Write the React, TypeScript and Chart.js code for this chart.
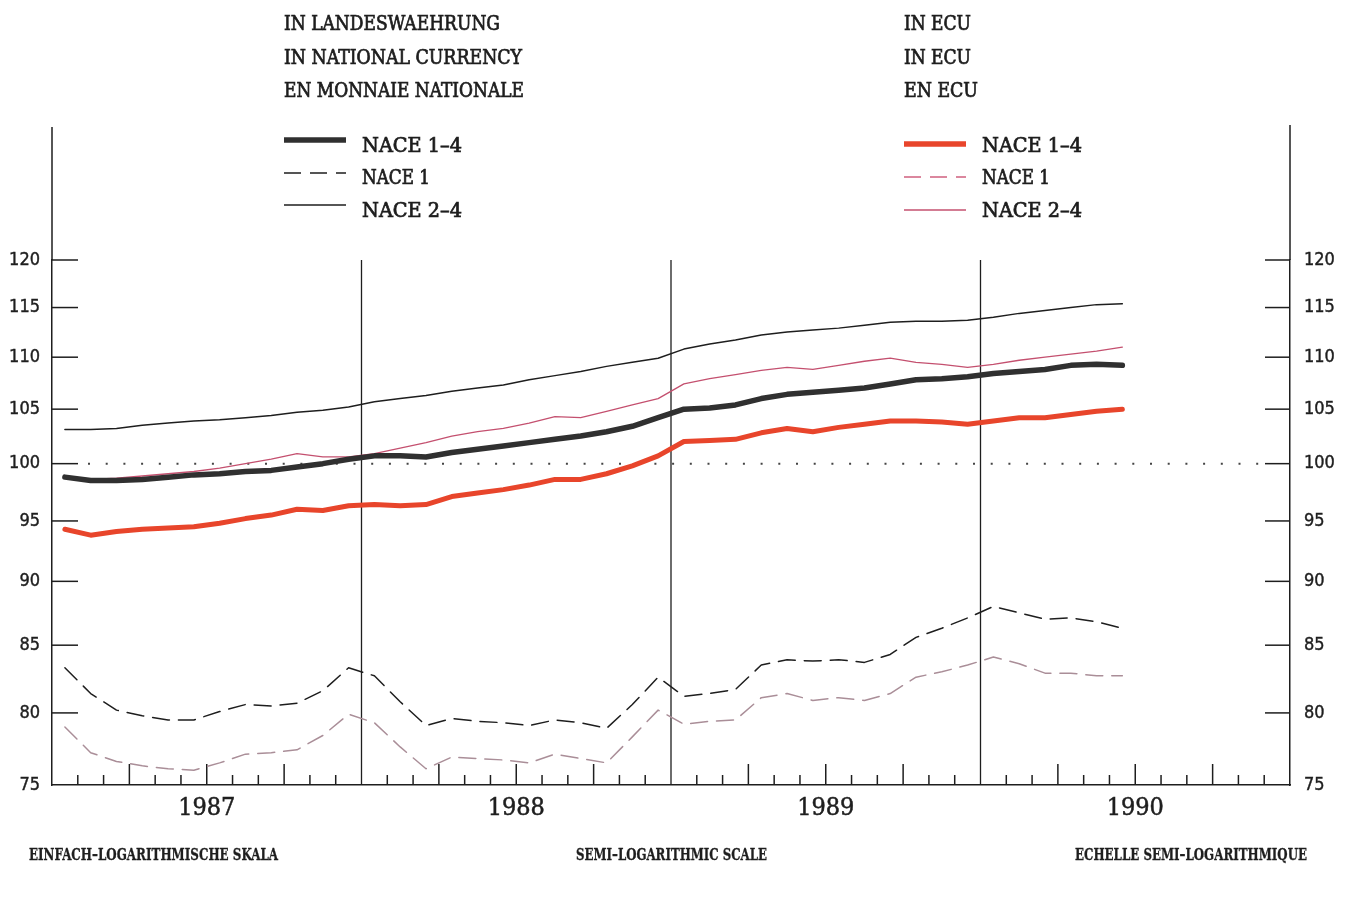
import React, { useEffect, useRef } from 'react';
import { Chart, registerables } from 'chart.js';

Chart.register(...registerables);

// ---- categories ----
const YEARS = ['1987', '1988', '1989', '1990'];
const MONTH_NAMES = ['Jan', 'Feb', 'Mar', 'Apr', 'May', 'Jun', 'Jul', 'Aug', 'Sep', 'Oct', 'Nov', 'Dec'];
const MONTH_LABELS = YEARS.flatMap((y) => MONTH_NAMES.map((m) => `${m} ${y}`));

// ---- tick labels ----
const YEAR_TICK_POSITIONS = [6, 18, 30, 42];
const YEAR_LABELS = ['1987', '1988', '1989', '1990'];
const Y_TICKS = [75, 80, 85, 90, 95, 100, 105, 110, 115, 120];

// ---- series (Jan 1987 – Jun 1990, monthly) ----
const NAT_NACE_1_4 = [98.8, 98.5, 98.5, 98.6, 98.8, 99.0, 99.1, 99.3, 99.4, 99.7, 100.0, 100.4, 100.7, 100.7, 100.6, 101.0, 101.3, 101.6, 101.9, 102.2, 102.5, 102.9, 103.4, 104.2, 105.0, 105.1, 105.4, 106.0, 106.4, 106.6, 106.8, 107.0, 107.4, 107.8, 107.9, 108.1, 108.4, 108.6, 108.8, 109.2, 109.3, 109.2];
const NAT_NACE_1 = [83.3, 81.4, 80.2, 79.8, 79.5, 79.5, 80.1, 80.6, 80.5, 80.7, 81.6, 83.3, 82.7, 80.8, 79.1, 79.6, 79.4, 79.3, 79.1, 79.5, 79.3, 78.9, 80.6, 82.6, 81.2, 81.4, 81.7, 83.5, 83.9, 83.8, 83.9, 83.7, 84.3, 85.6, 86.3, 87.1, 88.0, 87.5, 87.0, 87.1, 86.8, 86.3];
const NAT_NACE_2_4 = [103.1, 103.1, 103.2, 103.5, 103.7, 103.9, 104.0, 104.2, 104.4, 104.7, 104.9, 105.2, 105.7, 106.0, 106.3, 106.7, 107.0, 107.3, 107.8, 108.2, 108.6, 109.1, 109.5, 109.9, 110.8, 111.3, 111.7, 112.2, 112.5, 112.7, 112.9, 113.2, 113.5, 113.6, 113.6, 113.7, 114.0, 114.4, 114.7, 115.0, 115.3, 115.4];
const ECU_NACE_1_4 = [94.3, 93.8, 94.1, 94.3, 94.4, 94.5, 94.8, 95.2, 95.5, 96.0, 95.9, 96.3, 96.4, 96.3, 96.4, 97.1, 97.4, 97.7, 98.1, 98.6, 98.6, 99.1, 99.8, 100.7, 102.0, 102.1, 102.2, 102.8, 103.2, 102.9, 103.3, 103.6, 103.9, 103.9, 103.8, 103.6, 103.9, 104.2, 104.2, 104.5, 104.8, 105.0];
const ECU_NACE_1 = [79.0, 77.2, 76.6, 76.3, 76.1, 76.0, 76.5, 77.1, 77.2, 77.4, 78.4, 79.9, 79.3, 77.6, 76.1, 76.9, 76.8, 76.7, 76.5, 77.1, 76.8, 76.5, 78.3, 80.2, 79.2, 79.4, 79.5, 81.1, 81.4, 80.9, 81.1, 80.9, 81.4, 82.6, 83.0, 83.5, 84.1, 83.6, 82.9, 82.9, 82.7, 82.7];
const ECU_NACE_2_4 = [98.9, 98.6, 98.7, 98.9, 99.1, 99.3, 99.6, 100.0, 100.4, 100.9, 100.6, 100.6, 100.9, 101.4, 101.9, 102.5, 102.9, 103.2, 103.7, 104.3, 104.2, 104.8, 105.4, 106.0, 107.4, 107.9, 108.3, 108.7, 109.0, 108.8, 109.2, 109.6, 109.9, 109.5, 109.3, 109.0, 109.3, 109.7, 110.0, 110.3, 110.6, 111.0];

// ---- texts ----
const NAT_TITLE = ['IN LANDESWAEHRUNG', 'IN NATIONAL CURRENCY', 'EN MONNAIE NATIONALE'];
const ECU_TITLE = ['IN ECU', 'IN ECU', 'EN ECU'];
const LEGEND_LABELS = ['NACE 1–4', 'NACE 1', 'NACE 2–4'];
const FOOT_LABELS = ['EINFACH–LOGARITHMISCHE SKALA', 'SEMI–LOGARITHMIC SCALE', 'ECHELLE SEMI–LOGARITHMIQUE'];

const INK = '#1e1e1e';
const BLACK_THICK = '#303030';
const RED_THICK = '#e8452b';
const PINK_THIN = '#c4506f';
const PINK_DASH = '#aa8e98';

const SERIF = "'DejaVu Serif Condensed', 'DejaVu Serif', serif";
const SANS = "'DejaVu Sans Condensed', 'DejaVu Sans', sans-serif";

function fitText(ctx: CanvasRenderingContext2D, text: string, x: number, baseline: number, width: number, font: string, stroke = 0.7) {
  ctx.save();
  ctx.font = font;
  ctx.textBaseline = 'alphabetic';
  ctx.textAlign = 'left';
  const m = ctx.measureText(text).width;
  ctx.translate(x, baseline);
  ctx.scale(width / m, 1);
  ctx.fillText(text, 0, 0);
  if (stroke > 0) {
    ctx.lineWidth = stroke;
    ctx.strokeStyle = ctx.fillStyle as string;
    ctx.strokeText(text, 0, 0);
  }
  ctx.restore();
}

function seg(ctx: CanvasRenderingContext2D, x1: number, y1: number, x2: number, y2: number) {
  ctx.beginPath();
  ctx.moveTo(x1, y1);
  ctx.lineTo(x2, y2);
  ctx.stroke();
}

const decor = {
  id: 'decor',
  beforeDatasetsDraw(chart: any) {
    const { ctx, chartArea: a, scales } = chart;
    const y = scales.y;
    const yr = scales.yr;
    ctx.save();
    ctx.strokeStyle = INK;
    ctx.lineWidth = 1.5;
    seg(ctx, a.left, a.top - 133, a.left, a.top);
    seg(ctx, a.right, a.top - 135, a.right, a.top);
    ctx.lineWidth = 1.3;
    [12, 24, 36].forEach((k) => {
      const x = yr.getPixelForValue(k);
      seg(ctx, x, a.top, x, a.bottom);
    });
    ctx.lineWidth = 1.5;
    for (let k = 1; k < 48; k++) {
      if (k % 12 === 0) continue;
      const x = yr.getPixelForValue(k);
      const len = k % 3 === 0 ? 21 : 10;
      seg(ctx, x, a.bottom, x, a.bottom - len);
    }
    Y_TICKS.forEach((v) => {
      if (v === 75) return;
      const py = y.getPixelForValue(v);
      seg(ctx, a.left, py, a.left + 26, py);
      seg(ctx, a.right - 25, py, a.right, py);
    });
    const y100 = y.getPixelForValue(100);
    ctx.lineWidth = 2;
    ctx.strokeStyle = '#444';
    ctx.setLineDash([2, 15.7]);
    seg(ctx, a.left + 36, y100, a.right - 24, y100);
    ctx.setLineDash([]);
    ctx.restore();
  },
  afterDraw(chart: any) {
    const { ctx } = chart;
    ctx.save();
    ctx.fillStyle = INK;
    const titleFont = `20px ${SERIF}`;
    const titleBase = [30, 64, 97];
    const natW = [216, 238, 240];
    const ecuW = [67, 67, 74];
    NAT_TITLE.forEach((t, i) => fitText(ctx, t, 284, titleBase[i], natW[i], titleFont));
    ECU_TITLE.forEach((t, i) => fitText(ctx, t, 904, titleBase[i], ecuW[i], titleFont));

    const legBase = [152, 184, 217];
    const legLineY = [140, 173, 205];
    const legW = [100, 68, 100];
    LEGEND_LABELS.forEach((t, i) => {
      fitText(ctx, t, 362, legBase[i], legW[i], titleFont);
      fitText(ctx, t, 982, legBase[i], legW[i], titleFont);
    });
    ctx.lineCap = 'butt';
    ctx.strokeStyle = BLACK_THICK; ctx.lineWidth = 5.5;
    seg(ctx, 284, legLineY[0], 346, legLineY[0]);
    ctx.lineWidth = 1.5; ctx.strokeStyle = INK; ctx.setLineDash([17, 9]);
    seg(ctx, 284, legLineY[1], 346, legLineY[1]);
    ctx.setLineDash([]);
    ctx.lineWidth = 1.3;
    seg(ctx, 284, legLineY[2], 346, legLineY[2]);
    ctx.strokeStyle = RED_THICK; ctx.lineWidth = 5.5;
    seg(ctx, 904, legLineY[0] + 4, 966, legLineY[0] + 4);
    ctx.lineWidth = 1.5; ctx.strokeStyle = '#d0607f'; ctx.setLineDash([17, 9]);
    seg(ctx, 904, legLineY[1] + 4, 966, legLineY[1] + 4);
    ctx.setLineDash([]);
    ctx.lineWidth = 1.3; ctx.strokeStyle = PINK_THIN;
    seg(ctx, 904, legLineY[2] + 5, 966, legLineY[2] + 5);

    const footFont = `bold 17px ${SERIF}`;
    fitText(ctx, FOOT_LABELS[0], 29, 860, 249, footFont, 0.3);
    fitText(ctx, FOOT_LABELS[1], 576, 860, 191, footFont, 0.3);
    fitText(ctx, FOOT_LABELS[2], 1075, 860, 232, footFont, 0.3);
    ctx.restore();
  },
};

function yAxis(position: 'left' | 'right', width: number, padding: number) {
  return {
    type: 'logarithmic',
    position,
    min: 75,
    max: 120,
    afterBuildTicks: (s: any) => { s.ticks = Y_TICKS.map((v) => ({ value: v })); },
    afterFit: (s: any) => { s.width = width; },
    grid: { display: false, drawTicks: false },
    border: { display: true, color: INK, width: 1.5 },
    ticks: {
      padding,
      color: INK,
      font: { family: SANS, size: 18 },
      textStrokeColor: INK,
      textStrokeWidth: 0.4,
      callback: (v: any) => String(v),
      autoSkip: false,
    },
  };
}

export default function App() {
  const ref = useRef<HTMLCanvasElement>(null);
  useEffect(() => {
    if (!ref.current) return;
    const line = (label: string, data: number[], color: string, width: number, dash: number[] = []) => ({
      label, data, borderColor: color, borderWidth: width, borderDash: dash,
      pointRadius: 0, tension: 0, fill: false, xAxisID: 'x', yAxisID: 'y',
      borderCapStyle: 'round', borderJoinStyle: 'round',
    });
    const chart = new Chart(ref.current, {
      type: 'line',
      data: {
        labels: MONTH_LABELS,
        datasets: [
          line('NACE 1–4 (Landeswährung)', NAT_NACE_1_4, BLACK_THICK, 5.5),
          line('NACE 1–4 (ECU)', ECU_NACE_1_4, RED_THICK, 5),
          line('NACE 2–4 (Landeswährung)', NAT_NACE_2_4, INK, 1.5),
          line('NACE 2–4 (ECU)', ECU_NACE_2_4, PINK_THIN, 1.3),
          line('NACE 1 (Landeswährung)', NAT_NACE_1, INK, 1.5, [17, 9]),
          line('NACE 1 (ECU)', ECU_NACE_1, PINK_DASH, 1.5, [17, 9]),
        ] as any,
      },
      options: {
        responsive: false,
        animation: false,
        devicePixelRatio: 1,
        layout: { padding: { top: 260, left: 0, right: 0, bottom: 0 } },
        plugins: { legend: { display: false }, tooltip: { enabled: false } },
        scales: {
          x: { type: 'category', display: false, offset: true },
          yr: {
            type: 'linear',
            position: 'bottom',
            min: 0,
            max: 48,
            afterBuildTicks: (s: any) => { s.ticks = YEAR_TICK_POSITIONS.map((v) => ({ value: v })); },
            afterFit: (s: any) => { s.height = 117; },
            grid: { display: false, drawTicks: false },
            border: { display: true, color: INK, width: 1.5 },
            ticks: {
              padding: 8,
              color: INK,
              maxRotation: 0,
              autoSkip: false,
              font: { family: SERIF, size: 25 },
              textStrokeColor: INK,
              textStrokeWidth: 0.5,
              callback: (v: any) => YEAR_LABELS[YEAR_TICK_POSITIONS.indexOf(v)] ?? '',
            },
          },
          y: yAxis('left', 52, 12),
          y2: yAxis('right', 64, 14),
        } as any,
      },
      plugins: [decor],
    });
    return () => chart.destroy();
  }, []);
  return (
    <div style={{ position: 'fixed', left: 0, top: 0, width: 1354, height: 902, background: '#fff' }}>
      <canvas ref={ref} width={1354} height={902} style={{ display: 'block' }} />
    </div>
  );
}
